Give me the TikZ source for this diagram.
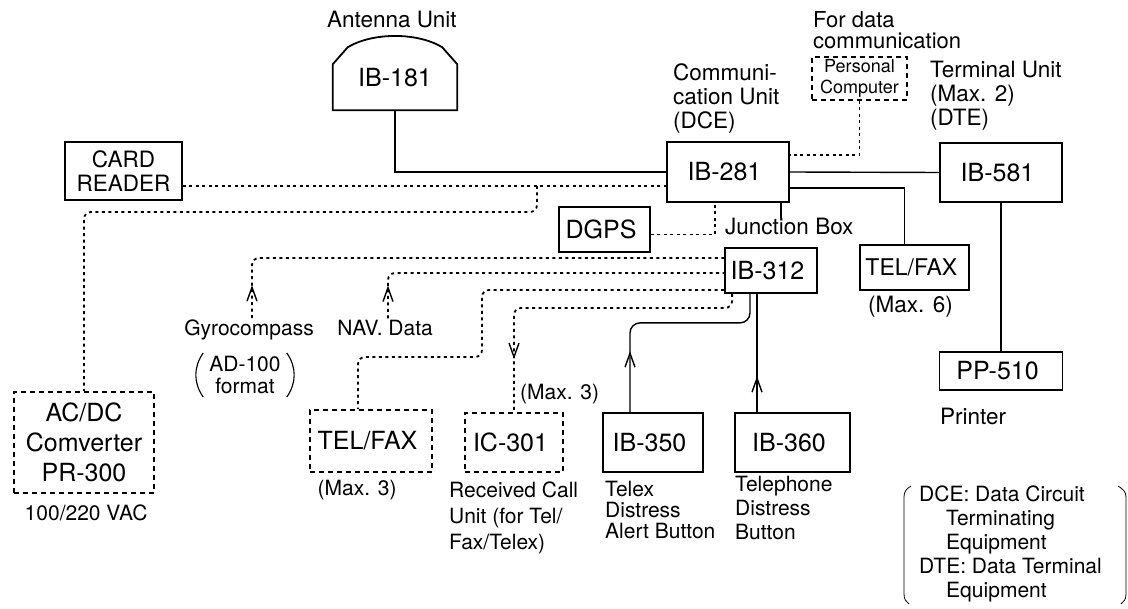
\documentclass[tikz,border=0pt]{standalone}
\usepackage{fontspec}
\setmainfont{TeX Gyre Heros}
\usetikzlibrary{arrows.meta, decorations.markings, calc, positioning}

\newcommand{\boxfs}{\fontsize{25}{29}\selectfont}
\newcommand{\lblfs}{\fontsize{22.5}{24}\selectfont}
\newcommand{\smfs}{\fontsize{21}{25}\selectfont}
\newcommand{\pcfs}{\fontsize{18}{21}\selectfont}

\tikzset{
    unit/.style={draw, line width=1.8pt, inner sep=0pt, font=\boxfs, align=center},
    optunit/.style={unit, dash pattern=on 5pt off 4pt},
    cable/.style={line width=1.4pt},
    sig/.style={line width=1.8pt, dash pattern=on 3pt off 3.5pt},
    lbl/.style={inner sep=0pt, font=\lblfs, align=left},
    midarrow/.style={postaction={decorate, decoration={markings,
        mark=at position #1 with {\arrow[line width=1.4pt]{Straight Barb[length=14pt,width=10pt]}}}}},
}

\begin{document}
\begin{tikzpicture}[x=1pt, y=-1pt]
                \useasboundingbox (0,0) rectangle (1128,609);

                \node [minimum width=124pt, minimum height=64pt, inner sep=0pt, font=\boxfs] (ant) at (395,78) { IB-181 };
                \draw [line width=1.8pt] (ant.south west) -- ++(0,-46) -- ++(15,-17)
                    .. controls ++(25,-15) and ++(-25,-15) .. ($(ant.south east)+(-15,-63)$)
                    -- ++(15,17) -- (ant.south east) -- cycle;
                \node [lbl, anchor=base] (antlbl) at (395,28) { Antenna Unit };

                \node [unit, minimum width=122pt, minimum height=60pt] (cu) at (728,172) { IB-281 };
                \node [lbl, anchor=north west] (culbl) at (673,63) { Communi-\\cation Unit\\(DCE) };
                \node [optunit, font=\pcfs, minimum width=95pt, minimum height=43pt] (pc) at (859.5,78.5) { Personal\\Computer };
                \node [lbl, anchor=north west, font=\fontsize{22}{21}\selectfont] (pclbl) at (813,11) { For data\\communication };
                \node [unit, minimum width=122pt, minimum height=59pt] (term) at (1001,172.5) { IB-581 };
                \node [lbl, anchor=north west] (termlbl) at (930,61) { Terminal Unit\\(Max. 2)\\(DTE) };
                \node [unit, font=\fontsize{23}{26}\selectfont, minimum width=109pt, minimum height=45pt] (tf) at (914.5,267.5) { TEL/FAX };
                \node [lbl, anchor=base west] (tflbl) at (868,313) { (Max. 6) };
                \node [unit, minimum width=123pt, minimum height=38pt] (pp) at (1001,371) { PP-510 };
                \node [lbl, anchor=base west] (pplbl) at (940,425) { Printer };

                \node [unit, font=\lblfs, minimum width=117pt, minimum height=58pt] (card) at (123.5,171) { CARD\\READER };
                \node [optunit, font=\fontsize{25}{30}\selectfont, minimum width=140pt, minimum height=101pt] (acdc) at (84,442.5) { AC/DC\\Comverter\\PR-300 };
                \node [lbl, font=\smfs, anchor=base] (acdclbl) at (89,521) { 100/220 VAC };

                \node [unit, minimum width=91pt, minimum height=45pt] (dgps) at (604.5,229.5) { DGPS };
                \node [unit, minimum width=92pt, minimum height=45pt] (ib312) at (771,270.5) { IB-312 };
                \node [lbl, anchor=base west] (jbox) at (725,235) { Junction Box };

                \node [lbl, font=\smfs, inner sep=2pt, anchor=base] (gyro) at (252,336) { Gyrocompass };
                \node [font=\fontsize{21}{22}\selectfont, align=center, inner xsep=10pt, inner ysep=3pt] (gyrofmt) at (245,375) { AD-100\\format };
                \draw [line width=1.1pt] ([xshift=4pt]gyrofmt.north west) to [bend right=35] ([xshift=4pt]gyrofmt.south west);
                \draw [line width=1.1pt] ([xshift=-4pt]gyrofmt.north east) to [bend left=35] ([xshift=-4pt]gyrofmt.south east);
                \node [lbl, font=\smfs, inner sep=2pt, anchor=base] (nav) at (388,336) { NAV. Data };

                \node [optunit, minimum width=122pt, minimum height=62pt] (tf2) at (371,441) { TEL/FAX };
                \node [lbl, font=\smfs, anchor=base] (tf2lbl) at (360,496) { (Max. 3) };
                \node [optunit, minimum width=98pt, minimum height=59pt] (ic) at (514,442.5) { IC-301 };
                \node [lbl, font=\smfs, anchor=base west] (iclbl) at (520,400) { (Max. 3) };
                \node [lbl, font=\fontsize{21}{26}\selectfont, anchor=north west] (icnote) at (449,482) { Received Call\\Unit (for Tel/\\Fax/Telex) };
                \node [unit, minimum width=100pt, minimum height=59pt] (ib350) at (653,442.5) { IB-350 };
                \node [lbl, font=\fontsize{21}{21}\selectfont, anchor=north west] (ib350lbl) at (605,481) { Telex\\Distress\\Alert Button };
                \node [unit, minimum width=115pt, minimum height=59pt] (ib360) at (792.5,442.5) { IB-360 };
                \node [lbl, font=\fontsize{21}{24}\selectfont, anchor=north west] (ib360lbl) at (735,476) { Telephone\\Distress\\Button };

                \node [lbl, font=\fontsize{21}{24}\selectfont, anchor=north west] (legend) at (919,486)
                    { DCE: Data Circuit\\\hspace*{27pt}Terminating\\\hspace*{27pt}Equipment\\DTE: Data Terminal\\\hspace*{27pt}Equipment };
                \draw [line width=0.8pt] (911,486) .. controls (906,489) and (904,492) .. (904,497) -- (904,594)
                    .. controls (904,599) and (906,602) .. (909,604);
                \draw [line width=0.8pt] (1118,486) .. controls (1123,489) and (1126,492) .. (1126,497) -- (1126,594)
                    .. controls (1126,599) and (1124,602) .. (1121,604);

                \draw [cable] (ant.south) |- (cu.west);
                \draw [cable] (cu.east) -- (term.west);
                \draw [cable] ([yshift=-16pt]cu.east) -| ([xshift=-10pt]tf.north);
                \draw [cable] (term.south) -- (pp.north);
                \draw [cable] ([xshift=53pt]cu.south) -- ([xshift=53pt]cu.south |- jbox.north);
                \draw [sig] (pc.south) |- ([yshift=17pt]cu.east);
                \draw [sig] ([yshift=-15pt]card.east) -- ([yshift=-15pt]card.east -| cu.west);
                \coordinate (tap) at (537,186);
                \coordinate (acbend) at (537,212);
                \draw [sig, rounded corners=7pt] (tap) -- (acbend) -| (acdc.north);
                \draw [sig] ([yshift=-5pt]dgps.east) -| ([xshift=-13pt]cu.south);

                \draw [sig, rounded corners=7pt, midarrow=33pt] (gyro.north) |- ([yshift=12.5pt]ib312.west);
                \draw [sig, rounded corners=7pt, midarrow=33pt] (nav.north) |- ([yshift=-2.5pt]ib312.west);
                \coordinate (tfbend) at (482,357);
                \draw [sig, rounded corners=7pt] ([yshift=-19.5pt]ib312.west) -| (tfbend) -| ([xshift=-13pt]tf2.north);
                \coordinate (icbend) at (514,308);
                \draw [sig, rounded corners=7pt, midarrow=-53pt] ([xshift=8pt]ib312.south west) |- (icbend) -- (ic.north);
                \draw [cable, rounded corners=10pt, midarrow=61pt] ([xshift=-23pt]ib350.north)
                    |- ([xshift=-21pt,yshift=-29pt]ib312.south) -- ([xshift=-21pt]ib312.south);
                \draw [cable, midarrow=36pt] ([xshift=-35.5pt]ib360.north) -- ([xshift=-14pt]ib312.south);
            \end{tikzpicture}
\end{document}
